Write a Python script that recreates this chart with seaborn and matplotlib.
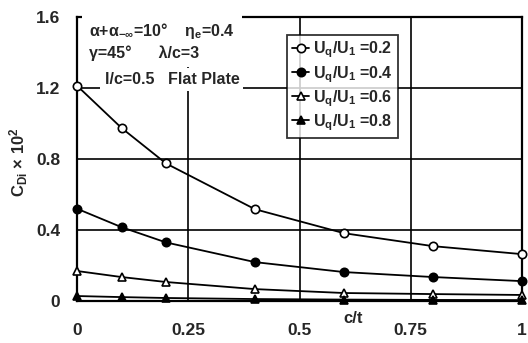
import matplotlib
matplotlib.use("Agg")
import matplotlib.pyplot as plt
import seaborn as sns
import pandas as pd

# c/t positions of the computed points
ct = [0.0, 0.1, 0.2, 0.4, 0.6, 0.8, 1.0]

# Induced drag coefficient (x 10^2) for each velocity ratio
cdi_02 = [1.213, 0.975, 0.775, 0.517, 0.382, 0.309, 0.264]
cdi_04 = [0.520, 0.416, 0.330, 0.219, 0.163, 0.135, 0.112]
cdi_06 = [0.169, 0.135, 0.107, 0.067, 0.045, 0.039, 0.034]
cdi_08 = [0.028, 0.022, 0.017, 0.011, 0.008, 0.006, 0.005]

ratios = ["0.2", "0.4", "0.6", "0.8"]
series = [cdi_02, cdi_04, cdi_06, cdi_08]

x_ticks = [0, 0.25, 0.5, 0.75, 1]
x_tick_labels = ["0", "0.25", "0.5", "0.75", "1"]
y_ticks = [0, 0.4, 0.8, 1.2, 1.6]
y_tick_labels = ["0", "0.4", "0.8", "1.2", "1.6"]

rows = []
for r, vals in zip(ratios, series):
    for x, y in zip(ct, vals):
        rows.append({"ct": x, "cdi": y, "ratio": r})
df = pd.DataFrame(rows)

sns.set_theme(style="white")
plt.rcParams["font.family"] = ["Liberation Sans", "DejaVu Sans"]
plt.rcParams["font.weight"] = "bold"
plt.rcParams["mathtext.default"] = "regular"

fig = plt.figure(figsize=(5.28, 3.43), dpi=100)
ax = fig.add_axes([77 / 528, 1 - 301 / 343, 445 / 528, 284 / 343])

styles = {
    "0.2": dict(marker="o", mfc="white"),
    "0.4": dict(marker="o", mfc="black"),
    "0.6": dict(marker="^", mfc="white"),
    "0.8": dict(marker="^", mfc="black"),
}

for r in ratios:
    sub = df[df["ratio"] == r]
    st = styles[r]
    sns.lineplot(data=sub, x="ct", y="cdi", ax=ax, color="black", lw=1.3,
                 marker=st["marker"], markerfacecolor=st["mfc"],
                 markeredgecolor="black", markeredgewidth=1.2, markersize=6,
                 label=f"U$_q$/U$_1$ =" + r, clip_on=False, zorder=4)

ax.set_xlim(0, 1)
ax.set_ylim(0, 1.6)
ax.set_xticks(x_ticks)
ax.set_xticklabels(x_tick_labels)
ax.set_yticks(y_ticks)
ax.set_yticklabels(y_tick_labels)
ax.tick_params(axis="x", length=0, pad=16, labelsize=12.5)
ax.tick_params(axis="y", length=0, pad=12, labelsize=12.5)
for lab in ax.get_xticklabels() + ax.get_yticklabels():
    lab.set_fontweight("bold")

ax.grid(True, color="black", lw=1.2)
ax.set_axisbelow(True)
for sp in ax.spines.values():
    sp.set_color("black")
    sp.set_linewidth(1.6)

ax.set_xlabel("")
ax.set_ylabel("C$_{Di}$ × 10$^2$", fontsize=12, fontweight="bold")
ax.yaxis.set_label_coords(-0.105, 0.49)
ax.text(0.62, -0.06, "c/t", transform=ax.transAxes, ha="center", va="center",
        fontsize=12, fontweight="bold")

ax.text(0.027, 0.985, "α+α$_{-∞}$=10°    η$_e$=0.4\nγ=45°      λ/c=3",
        transform=ax.transAxes, ha="left", va="top", fontsize=11.5,
        fontweight="bold", linespacing=1.3, zorder=5,
        bbox=dict(facecolor="white", edgecolor="none", pad=5))
ax.text(0.062, 0.78, "l/c=0.5   Flat Plate", transform=ax.transAxes,
        ha="left", va="center", fontsize=11.5, fontweight="bold", zorder=5,
        bbox=dict(facecolor="white", edgecolor="none", pad=3))

leg = ax.legend(loc="upper left", bbox_to_anchor=(210 / 445, 1 - 18 / 284),
                frameon=True, fancybox=False, edgecolor="black",
                handlelength=1.1, handletextpad=0.25, borderpad=0.3,
                borderaxespad=0.0, labelspacing=0.22,
                prop={"weight": "bold", "size": 11.5})
leg.get_frame().set_linewidth(1.3)
leg.set_zorder(6)

fig.savefig("out.png", dpi=100)
